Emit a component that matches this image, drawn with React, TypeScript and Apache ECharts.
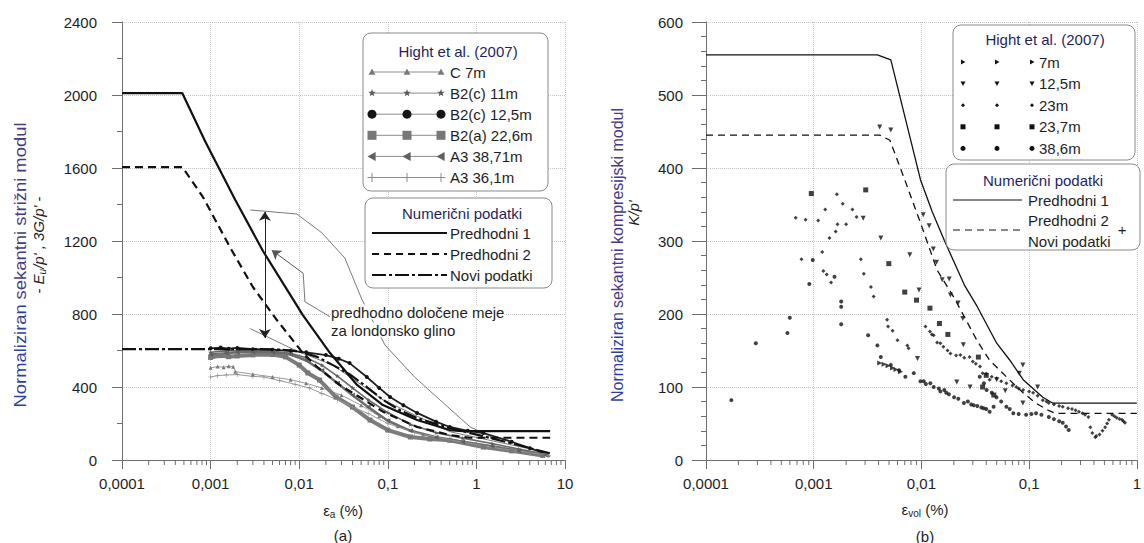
import React, { useEffect, useRef } from 'react';
import * as echarts from 'echarts';

// ---------------- data ----------------
const xTickLabels = ['0,0001', '0,001', '0,01', '0,1', '1', '10'];

// (a) numerical curves  [eps_a %, E/p']
const leftPred1 = [[0.0001, 2010], [0.00048, 2010], [0.00087, 1745], [0.0019, 1425], [0.0039, 1145], [0.011, 794], [0.0223, 586], [0.045, 411], [0.088, 301], [0.214, 219], [0.5, 164], [0.7, 158], [6.8, 158]];
const leftPred2 = [[0.0001, 1605], [0.00048, 1605], [0.00082, 1441], [0.00165, 1167], [0.003, 948], [0.0056, 767], [0.011, 586], [0.0159, 510], [0.0289, 410], [0.058, 320], [0.088, 265], [0.214, 181], [0.5, 137], [0.85, 122], [6.8, 122]];
const leftNovi = [[0.0001, 608], [0.003, 608], [0.006, 605], [0.01, 595], [0.016, 565], [0.024, 520], [0.037, 470], [0.058, 400], [0.088, 330], [0.14, 270], [0.214, 230], [0.5, 175], [1.2, 130], [2.8, 85], [7, 35]];
// previously determined limits for London clay (thin lines)
const leftBoundUpper = [[0.0028, 1370], [0.0094, 1348], [0.0181, 1244], [0.0327, 1107], [0.0513, 877], [0.0929, 630], [0.2, 455], [0.388, 329], [0.85, 181], [1.5, 125]];
const leftBoundLower = [[0.0028, 720], [0.0093, 598], [0.024, 520], [0.088, 330], [0.5, 155], [6.7, 38]];
const leftArrowDouble = [[0.0041, 1360], [0.0041, 668]];
const leftPointer = [[0.0223, 785], [0.0116, 867], [0.0111, 1023]];
const leftPointerHead = [[0.0111, 1023], [0.0049, 1150]];

// (a) Hight et al. (2007)
const hC7 = [[0.001, 505], [0.0012, 512], [0.0014, 508], [0.0016, 514], [0.0018, 511], [0.0019, 484], [0.003, 470], [0.005, 455], [0.008, 440], [0.012, 420], [0.018, 395], [0.03, 355], [0.05, 300], [0.08, 240], [0.13, 185], [0.25, 140], [0.5, 115], [1, 90], [2, 65], [4, 42], [6.5, 28]];
const hB2c11 = [[0.001, 590], [0.0015, 598], [0.002, 600], [0.003, 598], [0.005, 596], [0.008, 585], [0.012, 560], [0.018, 520], [0.027, 460], [0.04, 395], [0.06, 330], [0.1, 260], [0.18, 195], [0.35, 150], [0.7, 120], [1.5, 90], [3, 60], [6, 32]];
const hB2c125 = [[0.001, 612], [0.0013, 616], [0.0016, 610], [0.002, 614], [0.003, 607], [0.005, 604], [0.008, 598], [0.012, 590], [0.02, 575], [0.028, 555], [0.037, 531], [0.058, 455], [0.08, 395], [0.106, 345], [0.15, 300], [0.214, 258], [0.35, 210], [0.5, 181], [0.8, 160], [1.2, 148], [2.5, 100], [4, 65], [5.6, 40]];
const hB2a226 = [[0.001, 562], [0.0013, 572], [0.0016, 566], [0.002, 570], [0.003, 576], [0.005, 578], [0.007, 565], [0.01, 520], [0.0125, 477], [0.017, 438], [0.026, 345], [0.04, 290], [0.063, 219], [0.1, 164], [0.18, 126], [0.3, 115], [0.5, 108], [1.2, 71], [2.5, 50], [5.6, 25]];
const hA33871 = [[0.001, 578], [0.0015, 585], [0.002, 590], [0.003, 592], [0.005, 590], [0.008, 578], [0.012, 545], [0.018, 490], [0.027, 420], [0.04, 355], [0.06, 290], [0.1, 215], [0.18, 160], [0.35, 125], [0.7, 100], [1.5, 75], [3, 50], [6, 28]];
const hA3361 = [[0.001, 455], [0.0012, 462], [0.0015, 466], [0.002, 468], [0.003, 458], [0.004, 455], [0.006, 435], [0.009, 415], [0.013, 395], [0.018, 365], [0.027, 330], [0.04, 290], [0.06, 255], [0.1, 200], [0.2, 150], [0.5, 110], [1, 85], [2, 60], [4, 40], [6.5, 25]];

// (b) numerical curves [eps_vol %, K/p']
const rightPred1 = [[0.0001, 555], [0.0039, 555], [0.0052, 548], [0.0098, 384], [0.0126, 340], [0.0163, 301], [0.025, 240], [0.033, 210], [0.05, 160], [0.066, 137], [0.088, 110], [0.134, 86], [0.165, 78], [1, 78]];
const rightPred2 = [[0.0001, 445], [0.0041, 445], [0.0051, 438], [0.007, 384], [0.0098, 325], [0.014, 260], [0.02, 223], [0.0327, 164], [0.0428, 137], [0.0655, 110], [0.088, 92], [0.115, 78], [0.151, 68], [0.174, 64], [1, 64]];

// (b) Hight et al. (2007)
const r7 = [[0.0041, 133], [0.0045, 131], [0.0049, 129], [0.0054, 126], [0.0058, 124], [0.0064, 121]];
const r125 = [[0.0041, 456], [0.0052, 452], [0.00288, 331], [0.0042, 304], [0.0078, 281], [0.0104, 336], [0.0118, 321], [0.0129, 289], [0.0138, 271], [0.0156, 247], [0.0181, 248], [0.0186, 226], [0.0219, 215], [0.0242, 194], [0.0095, 233], [0.0092, 139], [0.0245, 158], [0.0213, 107], [0.0283, 100], [0.0875, 130], [0.081, 119], [0.12, 100], [0.0875, 78], [0.05, 110], [0.06, 95]];
const r23 = [[0.00068, 332], [0.00084, 329], [0.0011, 328], [0.00128, 343], [0.00164, 364], [0.00186, 351], [0.00229, 343], [0.0025, 333], [0.00166, 323], [0.002, 323], [0.0016, 313], [0.0014, 304], [0.0012, 285], [0.00077, 275], [0.00123, 259], [0.00132, 254], [0.00145, 243], [0.00274, 275], [0.00292, 255], [0.0034, 237], [0.0036, 224], [0.0048, 192], [0.0049, 183], [0.0054, 177], [0.006, 164], [0.0074, 157], [0.0076, 153], [0.0109, 183], [0.012, 176], [0.0125, 172], [0.013, 171], [0.014, 161], [0.015, 160], [0.016, 155], [0.0175, 150], [0.0186, 146], [0.021, 143], [0.023, 144], [0.025, 140], [0.028, 141], [0.03, 135], [0.032, 132], [0.035, 128], [0.037, 119], [0.04, 118], [0.043, 110], [0.045, 114], [0.05, 112], [0.055, 108], [0.0615, 105], [0.07, 102], [0.076, 100], [0.08, 98], [0.0881, 96], [0.1, 94], [0.109, 92], [0.12, 88], [0.134, 82], [0.145, 80], [0.152, 78], [0.17, 76], [0.19, 74], [0.205, 73], [0.23, 71], [0.25, 70], [0.27, 68], [0.29, 66], [0.313, 64], [0.33, 62], [0.355, 59], [0.37, 45], [0.386, 37], [0.412, 31], [0.42, 33], [0.45, 35], [0.48, 40], [0.508, 45], [0.53, 50], [0.55, 55], [0.59, 62], [0.62, 60], [0.65, 58], [0.69, 56], [0.728, 55], [0.75, 53], [0.776, 51]];
const r237 = [[0.00095, 365], [0.00304, 370], [0.00498, 269], [0.007, 230], [0.009, 219], [0.012, 208], [0.0147, 187], [0.0176, 172], [0.0338, 141], [0.037, 100], [0.04, 116], [0.047, 89]];
const r386 = [[0.000172, 82], [0.00029, 160], [0.00057, 174], [0.0006, 195], [0.00091, 241], [0.00098, 274], [0.00156, 251], [0.0018, 217], [0.0018, 210], [0.0018, 186], [0.0032, 171], [0.0039, 157], [0.0042, 141], [0.0052, 130], [0.0062, 123], [0.0071, 114], [0.0085, 119], [0.0098, 108], [0.0105, 108], [0.011, 104], [0.0121, 105], [0.013, 100], [0.0145, 98], [0.015, 94], [0.0163, 96], [0.017, 92], [0.018, 90], [0.0201, 86], [0.022, 84], [0.0248, 78], [0.027, 80], [0.029, 76], [0.0306, 75], [0.033, 74], [0.036, 72], [0.0378, 71], [0.04, 70], [0.043, 66], [0.0468, 73], [0.0348, 114], [0.038, 105], [0.0403, 96], [0.045, 92], [0.0498, 86], [0.055, 80], [0.0615, 73], [0.066, 70], [0.0713, 64], [0.08, 63], [0.0938, 62], [0.105, 63], [0.1159, 64], [0.13, 62], [0.1524, 59], [0.17, 56], [0.19, 53], [0.205, 51], [0.22, 46], [0.233, 41]];

// ---------------- styling ----------------
const FONT = '"Liberation Sans", Arial, Helvetica, sans-serif';
const AX = '#6e6e6e';
const GRIDC = '#c4c4c4';
const TXT = '#1e1e1e';
const NAVY = '#1f1f5e';

const STAR = 'path://M50,0 L61,35 L98,35 L68,57 L79,91 L50,70 L21,91 L32,57 L2,35 L39,35 Z';
const PLUS = 'path://M44,0 H56 V44 H100 V56 H56 V100 H44 V56 H0 V44 H44 Z';

const leftHight = [
  { name: 'C 7m', data: hC7, symbol: 'triangle', rot: 0, size: 4, color: '#7a7a7a', line: '#9a9a9a', lw: 1, lk: 'triangle', ls: 7 },
  { name: 'B2(c) 11m', data: hB2c11, symbol: STAR, rot: 0, size: 5, color: '#5c5c5c', line: '#6a6a6a', lw: 1.6, lk: 'star', ls: 8 },
  { name: 'B2(c) 12,5m', data: hB2c125, symbol: 'circle', rot: 0, size: 4, color: '#151515', line: '#1e1e1e', lw: 1.8, lk: 'circle', ls: 9 },
  { name: 'B2(a) 22,6m', data: hB2a226, symbol: 'rect', rot: 0, size: 5, color: '#777777', line: '#7c7c7c', lw: 4, lk: 'square', ls: 9 },
  { name: 'A3 38,71m', data: hA33871, symbol: 'triangle', rot: 90, size: 5, color: '#606060', line: '#6c6c6c', lw: 2.5, lk: 'triLeft', ls: 9 },
  { name: 'A3 36,1m', data: hA3361, symbol: PLUS, rot: 0, size: 5, color: '#8a8a8a', line: '#9a9a9a', lw: 1, lk: 'plus', ls: 9 },
];

const rightHight = [
  { name: '7m', data: r7, symbol: 'triangle', rot: -90, size: 5, lk: 'triRight', ls: 5 },
  { name: '12,5m', data: r125, symbol: 'triangle', rot: 180, size: 5, lk: 'triDown', ls: 5 },
  { name: '23m', data: r23, symbol: 'diamond', rot: 0, size: 4, lk: 'diamond', ls: 4 },
  { name: '23,7m', data: r237, symbol: 'rect', rot: 0, size: 5, lk: 'square', ls: 5 },
  { name: '38,6m', data: r386, symbol: 'circle', rot: 0, size: 4, lk: 'circle', ls: 5 },
];

const minorTicks = (lo: number, hi: number) => {
  const out: number[][] = [];
  for (let e = lo; e < hi; e++) for (let m = 2; m <= 9; m++) out.push([m * Math.pow(10, e), 0]);
  return out;
};

function xAxisCfg(gi: number, max: number) {
  return {
    gridIndex: gi, type: 'log', logBase: 10, min: 0.0001, max,
    axisLine: { show: true, onZero: false, lineStyle: { color: AX, width: 1 } },
    axisTick: { show: true, length: 9, lineStyle: { color: AX } },
    axisLabel: {
      show: true, margin: 16, fontSize: 15, color: TXT, fontFamily: FONT, showMinLabel: true, showMaxLabel: true,
      formatter: (v: number) => xTickLabels[Math.round(Math.log10(v)) + 4] ?? '',
    },
    splitLine: { show: true, lineStyle: { color: GRIDC, type: 'dotted', width: 1 } },
  };
}
function yAxisCfg(gi: number, max: number, interval: number, minorSplit: number, margin: number, tickLen: number) {
  return {
    gridIndex: gi, type: 'value', min: 0, max, interval,
    axisLine: { show: true, onZero: false, lineStyle: { color: AX } },
    axisTick: { show: true, length: tickLen, lineStyle: { color: AX } },
    minorTick: { show: true, splitNumber: minorSplit, length: 5, lineStyle: { color: AX } },
    axisLabel: { margin, fontSize: 15, color: TXT, fontFamily: FONT, formatter: (v: number) => String(Math.round(v)) },
    splitLine: { show: true, lineStyle: { color: GRIDC, type: 'dotted', width: 1 } },
  };
}

function tickSeries(axis: number, data: number[][], len: number) {
  return {
    type: 'custom', xAxisIndex: axis, yAxisIndex: axis, data, silent: true, clip: false, z: 6,
    renderItem: (_p: any, api: any) => {
      const p = api.coord([api.value(0), 0]);
      return { type: 'line', shape: { x1: p[0], y1: p[1], x2: p[0], y2: p[1] + len }, style: { stroke: AX, lineWidth: 1 } };
    },
  };
}

// -------- graphic helpers --------
function buildGraphic() {
  const g: any[] = [];
  const T = (x: number, y: number, text: string, o: any = {}) => g.push({
    type: 'text', x, y, z: 101, rotation: o.rot || 0, scaleX: o.sx || 1,
    style: {
      text, fill: o.fill || TXT,
      font: `${o.italic ? 'italic ' : ''}${o.size || 15}px ${FONT}`,
      align: o.align || 'left', textAlign: o.align || 'left',
      verticalAlign: 'middle', textVerticalAlign: 'middle',
      rich: o.rich, backgroundColor: o.bg, padding: o.pad,
    },
  });
  const R = (x: number, y: number, w: number, h: number) => g.push({
    type: 'rect', z: 100, shape: { x, y, width: w, height: h, r: 8 }, style: { fill: '#fff', stroke: '#8a8a8a', lineWidth: 1 },
  });
  const L = (x1: number, y1: number, x2: number, y2: number, color: string, w: number, dash?: number[]) => g.push({
    type: 'line', z: 101, shape: { x1, y1, x2, y2 }, style: { stroke: color, lineWidth: w, lineDash: dash },
  });
  const M = (kind: string, cx: number, cy: number, s: number, color: string) => {
    const h = s / 2;
    const poly = (pts: number[][]) => g.push({ type: 'polygon', z: 102, shape: { points: pts }, style: { fill: color } });
    if (kind === 'triangle') poly([[cx, cy - h], [cx + h, cy + h * 0.8], [cx - h, cy + h * 0.8]]);
    else if (kind === 'triLeft') poly([[cx - h, cy], [cx + h * 0.8, cy - h], [cx + h * 0.8, cy + h]]);
    else if (kind === 'triRight') poly([[cx + h, cy], [cx - h * 0.8, cy - h], [cx - h * 0.8, cy + h]]);
    else if (kind === 'triDown') poly([[cx, cy + h], [cx - h, cy - h * 0.8], [cx + h, cy - h * 0.8]]);
    else if (kind === 'diamond') poly([[cx, cy - h], [cx + h, cy], [cx, cy + h], [cx - h, cy]]);
    else if (kind === 'star') {
      const pts: number[][] = [];
      for (let i = 0; i < 10; i++) {
        const r = i % 2 === 0 ? h : h * 0.42;
        const a = -Math.PI / 2 + (i * Math.PI) / 5;
        pts.push([cx + r * Math.cos(a), cy + r * Math.sin(a)]);
      }
      poly(pts);
    } else if (kind === 'circle') g.push({ type: 'circle', z: 102, shape: { cx, cy, r: h }, style: { fill: color } });
    else if (kind === 'square') g.push({ type: 'rect', z: 102, shape: { x: cx - h, y: cy - h, width: s, height: s }, style: { fill: color } });
    else if (kind === 'plus') {
      L(cx - h, cy, cx + h, cy, color, 1);
      L(cx, cy - h, cx, cy + h, color, 1);
    }
  };

  // ---- (a) legends ----
  R(363, 33, 185, 158);
  T(458, 51, 'Hight et al. (2007)', { align: 'center', fill: NAVY });
  leftHight.forEach((h, i) => {
    const y = 72 + i * 21.1;
    L(372, y, 441, y, '#8c8c8c', 1);
    [372, 407, 441].forEach((x) => M(h.lk, x, y, h.ls, h.color));
    T(450, y, h.name);
  });
  R(365, 198, 187, 90);
  T(462, 213, 'Numerični podatki', { align: 'center', fill: NAVY });
  L(372, 233, 447, 233, '#111', 2);
  T(450, 233, 'Predhodni 1');
  L(372, 254, 447, 254, '#111', 2, [7, 5]);
  T(450, 254, 'Predhodni 2');
  L(372, 275, 447, 275, '#111', 2, [14, 3, 3, 3]);
  T(450, 275, 'Novi podatki');

  T(331, 312, 'predhodno določene meje', { bg: '#fff' });
  T(331, 330, 'za londonsko glino', { bg: '#fff' });

  // ---- (b) legends ----
  R(953, 25, 182, 135);
  T(1045, 39, 'Hight et al. (2007)', { align: 'center', fill: NAVY });
  rightHight.forEach((h, i) => {
    const y = 62 + i * 21.6;
    [963, 997, 1032].forEach((x) => M(h.lk, x, y, h.ls, '#111'));
    T(1039, y, h.name);
  });
  R(946, 164, 194, 86);
  T(1043, 180, 'Numerični podatki', { align: 'center', fill: NAVY });
  L(953, 200, 1022, 200, '#111', 1.2);
  T(1028, 200, 'Predhodni 1');
  T(1028, 220, 'Predhodni 2');
  L(953, 230, 1022, 230, '#111', 1.2, [7, 5]);
  T(1028, 241, 'Novi podatki');
  T(1122, 229, '+', { align: 'center' });

  // ---- axis titles ----
  const subRich = {
    e: { fontSize: 15, fontFamily: FONT, fill: TXT, color: TXT, lineHeight: 18, verticalAlign: 'middle' },
    s: { fontSize: 10, fontFamily: FONT, fill: TXT, color: TXT, lineHeight: 10, verticalAlign: 'bottom' },
  };
  T(343, 510, '{e|ε}{s|a}{e| (%)}', { align: 'center', rich: subRich });
  T(925, 509, '{e|ε}{s|vol}{e| (%)}', { align: 'center', rich: subRich });
  T(343, 535, '(a)', { align: 'center' });
  T(925, 536, '(b)', { align: 'center' });

  const titleRich = (size: number) => ({
    b: { fontSize: size, fontFamily: FONT, fill: '#2f3f9f', color: '#2f3f9f' },
    p: { fontSize: size, fontFamily: FONT, fill: '#463a86', color: '#463a86' },
  });
  T(20, 265, '{b|Normaliziran} {p|sekantni strižni modul}', { rot: Math.PI / 2, align: 'center', rich: titleRich(16), sx: 1.15 });
  const iRich = {
    t: { fontSize: 15, fontFamily: FONT, fill: TXT, color: TXT, lineHeight: 18, verticalAlign: 'middle' },
    i: { fontSize: 15, fontFamily: FONT, fontStyle: 'italic', fill: TXT, color: TXT, lineHeight: 18, verticalAlign: 'middle' },
    s: { fontSize: 10, fontFamily: FONT, fontStyle: 'italic', fill: TXT, color: TXT, lineHeight: 10, verticalAlign: 'bottom' },
  };
  T(38, 245, "{t|- }{i|E}{s|u}{i|/p' , 3G/p'}{t| -}", { rot: Math.PI / 2, align: 'center', rich: iRich });
  T(617, 255, '{b|Normaliziran} {p|sekantni kompresijski modul}', { rot: Math.PI / 2, align: 'center', rich: titleRich(16) });
  T(633, 213, "{i|K/p'}", { rot: Math.PI / 2, align: 'center', rich: iRich });
  return g;
}

function buildOption() {
  const series: any[] = [];
  // (a) thin limit lines
  [leftBoundUpper, leftBoundLower].forEach((d) => series.push({
    type: 'line', xAxisIndex: 0, yAxisIndex: 0, data: d, symbol: 'none', silent: true, z: 2,
    lineStyle: { color: '#7a7a7a', width: 1 },
  }));
  leftHight.forEach((h) => series.push({
    type: 'line', name: h.name, xAxisIndex: 0, yAxisIndex: 0, data: h.data, symbol: h.symbol, symbolRotate: h.rot,
    symbolSize: h.size, showSymbol: true, silent: true, z: 3, symbolKeepAspect: true,
    itemStyle: { color: h.color }, lineStyle: { color: h.line, width: h.lw },
  }));
  const pred = (axis: number, d: number[][], type: any, w: number) => ({
    type: 'line', xAxisIndex: axis, yAxisIndex: axis, data: d, symbol: 'none', silent: true, z: 4,
    lineStyle: { color: '#111', width: w, type },
  });
  series.push(pred(0, leftPred1, 'solid', 2.2));
  series.push(pred(0, leftPred2, [8, 5], 2.2));
  series.push(pred(0, leftNovi, [14, 3, 3, 3], 2.2));
  // arrows
  series.push({
    type: 'lines', coordinateSystem: 'cartesian2d', xAxisIndex: 0, yAxisIndex: 0, silent: true, z: 5,
    symbol: ['arrow', 'arrow'], symbolSize: 9, lineStyle: { color: '#222', width: 1, opacity: 1 },
    data: [{ coords: leftArrowDouble }],
  });
  series.push({
    type: 'lines', coordinateSystem: 'cartesian2d', xAxisIndex: 0, yAxisIndex: 0, silent: true, z: 5, polyline: true,
    lineStyle: { color: '#777', width: 1, opacity: 1 }, data: [{ coords: leftPointer }],
  });
  series.push({
    type: 'lines', coordinateSystem: 'cartesian2d', xAxisIndex: 0, yAxisIndex: 0, silent: true, z: 5,
    symbol: ['none', 'arrow'], symbolSize: 9, lineStyle: { color: '#555', width: 1, opacity: 1 },
    data: [{ coords: leftPointerHead }],
  });
  series.push(tickSeries(0, minorTicks(-4, 1), 5));

  // (b)
  rightHight.forEach((h) => series.push({
    type: 'scatter', name: h.name, xAxisIndex: 1, yAxisIndex: 1, data: h.data, symbol: h.symbol, symbolRotate: h.rot,
    symbolSize: h.size, silent: true, z: 3, itemStyle: { color: '#111' },
  }));
  series.push(pred(1, rightPred1, 'solid', 1.3));
  series.push(pred(1, rightPred2, [7, 5], 1.3));
  series.push(tickSeries(1, minorTicks(-4, 0), 5));

  return {
    animation: false,
    backgroundColor: '#ffffff',
    textStyle: { fontFamily: FONT },
    grid: [
      { left: 122, top: 22, width: 443, height: 438 },
      { left: 706, top: 22, width: 435, height: 438 },
    ],
    xAxis: [xAxisCfg(0, 10), xAxisCfg(1, 1)],
    yAxis: [yAxisCfg(0, 2400, 400, 2, 25, 10), yAxisCfg(1, 600, 100, 5, 23, 14)],
    series,
    graphic: { elements: buildGraphic() },
  };
}

export default function App() {
  const ref = useRef<HTMLDivElement>(null);
  useEffect(() => {
    if (!ref.current) return;
    const chart = echarts.init(ref.current, null, { renderer: 'svg' });
    chart.setOption(buildOption() as any);
    return () => chart.dispose();
  }, []);
  return (
    <div
      ref={ref}
      style={{ position: 'fixed', left: 0, top: 0, width: 1144, height: 543, background: '#fff' }}
    />
  );
}
